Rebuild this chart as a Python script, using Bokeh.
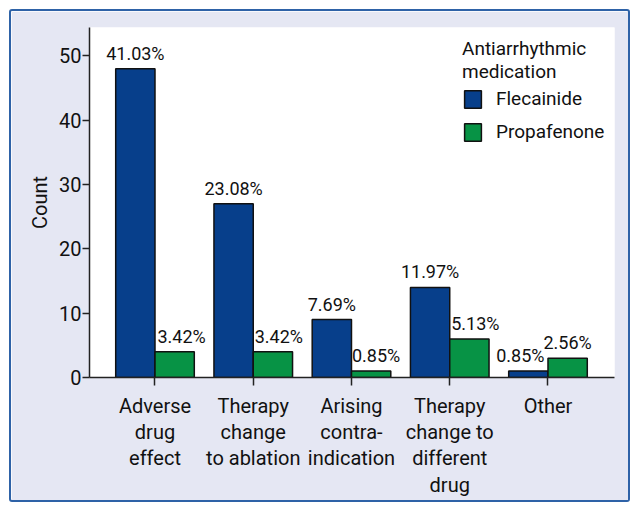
from bokeh.plotting import figure
from bokeh.models import Range1d, FixedTicker, Legend, LegendItem
from bokeh.core.properties import value
from bokeh.embed import file_html
from bokeh.resources import INLINE

# ---- data ----
categories = ["Adverse\ndrug\neffect", "Therapy\nchange\nto ablation", "Arising\ncontra-\nindication",
              "Therapy\nchange to\ndifferent\ndrug", "Other"]
flecainide = [48, 27, 9, 14, 1]
propafenone = [4, 4, 1, 6, 3]
flec_pct = ["41.03%", "23.08%", "7.69%", "11.97%", "0.85%"]
prop_pct = ["3.42%", "3.42%", "0.85%", "5.13%", "2.56%"]
y_ticks = [0, 10, 20, 30, 40, 50]

# ---- style ----
FONT = "Roboto"
BLUE = "#073f8b"
GREEN = "#079345"
LAVENDER = "#e5e7f3"
FRAME_BLUE = "#2e62a7"
TXT = "#111111"
flec_dx = [0, 0, 0, 0, -8]
prop_dx = [7, 6, 5, 6, 0]

xs = list(range(1, len(categories) + 1))
flec_x = [x - 0.2 for x in xs]
prop_x = [x + 0.2 for x in xs]

p = figure(width=621, height=493, output_backend="svg", toolbar_location=None,
           x_range=Range1d(1 - 2 / 3, len(categories) + 0.677), y_range=Range1d(0, 54.4),
           min_border_left=78, min_border_right=18, min_border_top=16, min_border_bottom=127,
           background_fill_color="white", border_fill_color=LAVENDER,
           margin=(9, 0, 0, 9),
           styles={"border": "2px solid " + FRAME_BLUE, "border-radius": "3px"})
p.outline_line_color = None
p.grid.visible = False

r1 = p.vbar(x=flec_x, top=flecainide, width=0.4, fill_color=BLUE, line_color=TXT, line_width=1.5)
r2 = p.vbar(x=prop_x, top=propafenone, width=0.4, fill_color=GREEN, line_color=TXT, line_width=1.5)

p.text(x=flec_x, y=flecainide, text=flec_pct, x_offset=flec_dx, y_offset=-5,
       text_align="center", text_baseline="bottom", text_font=value(FONT),
       text_font_size="18px", text_color=TXT)
p.text(x=prop_x, y=propafenone, text=prop_pct, x_offset=prop_dx, y_offset=-5,
       text_align="center", text_baseline="bottom", text_font=value(FONT),
       text_font_size="18px", text_color=TXT)

# axes
for ax in (p.xaxis[0], p.yaxis[0]):
    ax.axis_line_color = "#222222"
    ax.axis_line_width = 1.5
    ax.major_tick_line_color = "#222222"
    ax.major_tick_line_width = 1.5
    ax.major_tick_in = 0
    ax.minor_tick_line_color = None
    ax.major_label_text_font = FONT
    ax.major_label_text_font_size = "20px"
    ax.major_label_text_color = TXT

p.yaxis.ticker = FixedTicker(ticks=y_ticks)
p.yaxis.major_tick_out = 7
p.yaxis.major_label_standoff = 1
p.yaxis.axis_label = "Count"
p.yaxis.axis_label_text_font = FONT
p.yaxis.axis_label_text_font_size = "20px"
p.yaxis.axis_label_text_font_style = "normal"
p.yaxis.axis_label_text_color = TXT
p.yaxis.axis_label_standoff = 4

p.xaxis.ticker = FixedTicker(ticks=xs)
p.xaxis.major_label_overrides = {x: c for x, c in zip(xs, categories)}
p.xaxis.major_tick_out = 8
p.xaxis.major_label_standoff = 8
p.xaxis.major_label_text_line_height = 1.1

legend = Legend(items=[LegendItem(label="Flecainide", renderers=[r1]),
                       LegendItem(label="Propafenone", renderers=[r2])],
                title="Antiarrhythmic\nmedication", location=(373, 234),
                title_text_font=FONT, title_text_font_size="19px", title_text_font_style="normal",
                title_text_color=TXT, title_standoff=4, title_text_line_height=1.3,
                label_text_font=FONT, label_text_font_size="19px", label_text_color=TXT,
                glyph_width=21, glyph_height=22, label_standoff=13, label_height=22,
                spacing=10, padding=0, margin=0, border_line_color=None,
                background_fill_color="white", background_fill_alpha=1.0)
p.add_layout(legend)

open("out.html", "w").write(file_html(p, INLINE))
